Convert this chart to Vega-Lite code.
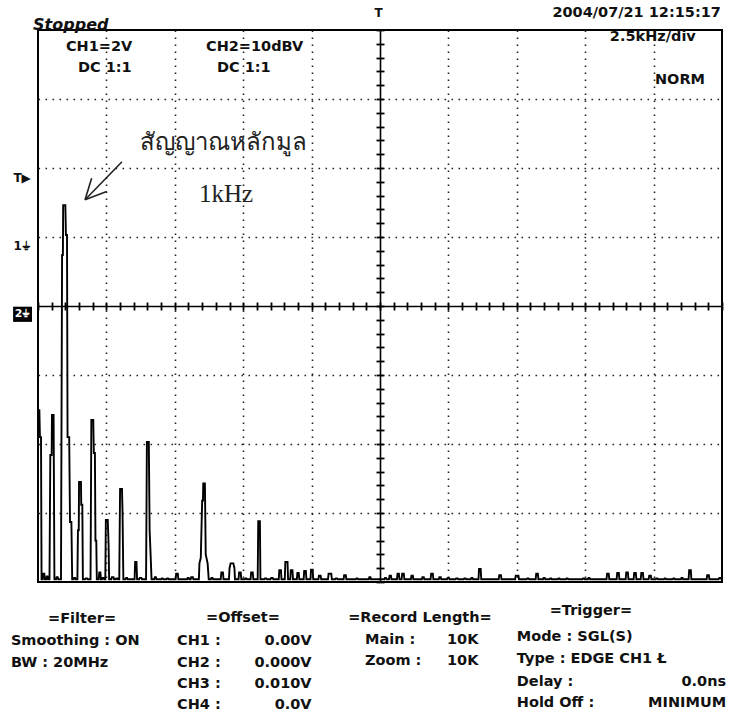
{
"$schema":"https://vega.github.io/schema/vega-lite/v6.json",
"width":684,"height":552,
"autosize":{"type":"none"},
"padding":{"left":38,"top":30,"right":9,"bottom":136},
"background":"white",
"config":{"view":{"stroke":"black","strokeWidth":2}},
"datasets":{
"trace":[
{"f":0,"v":2.49},{"f":0.05,"v":2.49},{"f":0.07,"v":2.1},{"f":0.11,"v":2.1},{"f":0.13,"v":0.04},
{"f":0.17,"v":0.04},{"f":0.19,"v":0.12},{"f":0.23,"v":0.12},{"f":0.25,"v":0.04},
{"f":0.3,"v":0.04},{"f":0.32,"v":0.08},{"f":0.35,"v":0.08},{"f":0.37,"v":0.04},
{"f":0.42,"v":0.04},{"f":0.45,"v":1.84},{"f":0.5,"v":1.84},{"f":0.51,"v":2.42},{"f":0.57,"v":2.42},{"f":0.6,"v":0.04},
{"f":0.66,"v":0.04},{"f":0.68,"v":0.07},{"f":0.72,"v":0.07},{"f":0.74,"v":0.04},
{"f":0.84,"v":0.04},{"f":0.88,"v":4.74},{"f":0.91,"v":4.74},{"f":0.92,"v":5.46},{"f":1.0,"v":5.46},{"f":1.02,"v":5.03},{"f":1.06,"v":5.03},{"f":1.08,"v":2.1},{"f":1.14,"v":2.1},{"f":1.17,"v":0.87},{"f":1.22,"v":0.87},{"f":1.25,"v":0.04},
{"f":1.3,"v":0.04},{"f":1.32,"v":0.06},{"f":1.36,"v":0.06},{"f":1.38,"v":0.04},
{"f":1.44,"v":0.04},{"f":1.46,"v":0.75},{"f":1.49,"v":0.75},{"f":1.5,"v":1.45},{"f":1.57,"v":1.45},{"f":1.58,"v":1.12},{"f":1.62,"v":1.12},{"f":1.64,"v":0.04},
{"f":1.72,"v":0.04},{"f":1.74,"v":0.05},{"f":1.8,"v":0.05},{"f":1.82,"v":0.04},
{"f":1.92,"v":0.04},{"f":1.95,"v":2.35},{"f":2.02,"v":2.35},{"f":2.04,"v":1.87},{"f":2.08,"v":1.87},{"f":2.1,"v":0.6},{"f":2.13,"v":0.6},{"f":2.15,"v":0.04},
{"f":2.22,"v":0.04},{"f":2.24,"v":0.14},{"f":2.28,"v":0.14},{"f":2.3,"v":0.04},
{"f":2.34,"v":0.04},{"f":2.36,"v":0.06},{"f":2.4,"v":0.06},{"f":2.42,"v":0.04},
{"f":2.46,"v":0.04},{"f":2.48,"v":0.9},{"f":2.55,"v":0.9},{"f":2.58,"v":0.55},{"f":2.6,"v":0.04},
{"f":2.68,"v":0.04},{"f":2.7,"v":0.07},{"f":2.76,"v":0.07},{"f":2.78,"v":0.04},
{"f":2.84,"v":0.04},{"f":2.86,"v":0.05},{"f":2.9,"v":0.05},{"f":2.92,"v":0.04},
{"f":2.97,"v":0.04},{"f":3.0,"v":1.35},{"f":3.07,"v":1.35},{"f":3.09,"v":1.0},{"f":3.12,"v":0.04},
{"f":3.2,"v":0.04},{"f":3.22,"v":0.06},{"f":3.26,"v":0.06},{"f":3.28,"v":0.04},
{"f":3.53,"v":0.04},{"f":3.55,"v":0.29},{"f":3.6,"v":0.29},{"f":3.62,"v":0.04},
{"f":3.7,"v":0.04},{"f":3.72,"v":0.06},{"f":3.78,"v":0.06},{"f":3.8,"v":0.04},
{"f":3.95,"v":0.04},{"f":3.98,"v":2.03},{"f":4.05,"v":2.03},{"f":4.08,"v":0.75},{"f":4.12,"v":0.35},{"f":4.15,"v":0.04},
{"f":4.25,"v":0.04},{"f":4.27,"v":0.07},{"f":4.31,"v":0.07},{"f":4.33,"v":0.04},
{"f":4.5,"v":0.04},{"f":4.52,"v":0.05},{"f":4.56,"v":0.05},{"f":4.58,"v":0.04},
{"f":4.7,"v":0.04},{"f":4.72,"v":0.05},{"f":4.76,"v":0.05},{"f":4.78,"v":0.04},
{"f":5.03,"v":0.04},{"f":5.05,"v":0.12},{"f":5.11,"v":0.12},{"f":5.13,"v":0.04},
{"f":5.45,"v":0.04},{"f":5.47,"v":0.06},{"f":5.51,"v":0.06},{"f":5.53,"v":0.04},
{"f":5.58,"v":0.04},{"f":5.6,"v":0.07},{"f":5.66,"v":0.07},{"f":5.68,"v":0.04},
{"f":5.88,"v":0.04},{"f":5.9,"v":0.27},{"f":5.95,"v":0.35},{"f":6.0,"v":1.18},{"f":6.03,"v":1.18},{"f":6.04,"v":1.43},{"f":6.1,"v":1.43},{"f":6.13,"v":0.4},{"f":6.2,"v":0.27},{"f":6.24,"v":0.04},
{"f":6.32,"v":0.04},{"f":6.34,"v":0.06},{"f":6.38,"v":0.06},{"f":6.4,"v":0.04},
{"f":6.68,"v":0.04},{"f":6.7,"v":0.14},{"f":6.76,"v":0.14},{"f":6.78,"v":0.04},
{"f":6.98,"v":0.04},{"f":7.0,"v":0.2},{"f":7.04,"v":0.27},{"f":7.14,"v":0.27},{"f":7.18,"v":0.2},{"f":7.2,"v":0.04},
{"f":7.33,"v":0.04},{"f":7.35,"v":0.14},{"f":7.41,"v":0.14},{"f":7.43,"v":0.04},
{"f":7.56,"v":0.04},{"f":7.58,"v":0.05},{"f":7.62,"v":0.05},{"f":7.64,"v":0.04},
{"f":7.77,"v":0.04},{"f":7.79,"v":0.14},{"f":7.85,"v":0.14},{"f":7.87,"v":0.04},
{"f":8.03,"v":0.04},{"f":8.05,"v":0.88},{"f":8.11,"v":0.88},{"f":8.13,"v":0.04},
{"f":8.27,"v":0.04},{"f":8.29,"v":0.05},{"f":8.35,"v":0.05},{"f":8.37,"v":0.04},
{"f":8.5,"v":0.04},{"f":8.52,"v":0.06},{"f":8.58,"v":0.06},{"f":8.6,"v":0.04},
{"f":8.8,"v":0.04},{"f":8.82,"v":0.17},{"f":8.88,"v":0.17},{"f":8.9,"v":0.04},
{"f":9.02,"v":0.04},{"f":9.04,"v":0.29},{"f":9.12,"v":0.29},{"f":9.14,"v":0.04},
{"f":9.22,"v":0.04},{"f":9.24,"v":0.17},{"f":9.3,"v":0.17},{"f":9.32,"v":0.04},
{"f":9.46,"v":0.04},{"f":9.48,"v":0.13},{"f":9.53,"v":0.13},{"f":9.55,"v":0.04},
{"f":9.71,"v":0.04},{"f":9.73,"v":0.16},{"f":9.79,"v":0.16},{"f":9.81,"v":0.04},
{"f":9.96,"v":0.04},{"f":9.98,"v":0.18},{"f":10.04,"v":0.18},{"f":10.06,"v":0.04},
{"f":10.25,"v":0.04},{"f":10.27,"v":0.09},{"f":10.33,"v":0.09},{"f":10.35,"v":0.04},
{"f":10.6,"v":0.04},{"f":10.62,"v":0.12},{"f":10.72,"v":0.12},{"f":10.74,"v":0.04},
{"f":10.86,"v":0.04},{"f":10.88,"v":0.05},{"f":10.93,"v":0.05},{"f":10.95,"v":0.04},
{"f":11.17,"v":0.04},{"f":11.19,"v":0.1},{"f":11.25,"v":0.1},{"f":11.27,"v":0.04},
{"f":11.62,"v":0.04},{"f":11.64,"v":0.05},{"f":11.68,"v":0.05},{"f":11.7,"v":0.04},
{"f":12.09,"v":0.04},{"f":12.11,"v":0.07},{"f":12.15,"v":0.07},{"f":12.17,"v":0.04},
{"f":12.66,"v":0.04},{"f":12.68,"v":0.06},{"f":12.72,"v":0.06},{"f":12.74,"v":0.04},
{"f":12.83,"v":0.04},{"f":12.85,"v":0.09},{"f":12.9,"v":0.09},{"f":12.92,"v":0.04},
{"f":13.12,"v":0.04},{"f":13.14,"v":0.12},{"f":13.19,"v":0.12},{"f":13.21,"v":0.04},
{"f":13.29,"v":0.04},{"f":13.31,"v":0.12},{"f":13.37,"v":0.12},{"f":13.39,"v":0.04},
{"f":13.63,"v":0.04},{"f":13.65,"v":0.09},{"f":13.7,"v":0.09},{"f":13.72,"v":0.04},
{"f":14.03,"v":0.04},{"f":14.05,"v":0.07},{"f":14.1,"v":0.07},{"f":14.12,"v":0.04},
{"f":14.35,"v":0.04},{"f":14.37,"v":0.12},{"f":14.43,"v":0.12},{"f":14.45,"v":0.04},
{"f":14.65,"v":0.04},{"f":14.67,"v":0.07},{"f":14.72,"v":0.07},{"f":14.74,"v":0.04},
{"f":14.95,"v":0.04},{"f":14.97,"v":0.06},{"f":15.02,"v":0.06},{"f":15.04,"v":0.04},
{"f":15.26,"v":0.04},{"f":15.28,"v":0.05},{"f":15.34,"v":0.05},{"f":15.36,"v":0.04},
{"f":15.56,"v":0.04},{"f":15.58,"v":0.05},{"f":15.63,"v":0.05},{"f":15.65,"v":0.04},
{"f":15.82,"v":0.04},{"f":15.84,"v":0.06},{"f":15.88,"v":0.06},{"f":15.9,"v":0.04},
{"f":16.1,"v":0.04},{"f":16.12,"v":0.19},{"f":16.18,"v":0.19},{"f":16.2,"v":0.04},
{"f":16.84,"v":0.04},{"f":16.86,"v":0.1},{"f":16.92,"v":0.1},{"f":16.94,"v":0.04},
{"f":17.44,"v":0.04},{"f":17.46,"v":0.09},{"f":17.56,"v":0.09},{"f":17.58,"v":0.04},
{"f":17.86,"v":0.04},{"f":17.88,"v":0.05},{"f":17.93,"v":0.05},{"f":17.95,"v":0.04},
{"f":18.19,"v":0.04},{"f":18.21,"v":0.12},{"f":18.27,"v":0.12},{"f":18.29,"v":0.04},
{"f":18.46,"v":0.04},{"f":18.48,"v":0.06},{"f":18.52,"v":0.06},{"f":18.54,"v":0.04},
{"f":18.7,"v":0.04},{"f":18.72,"v":0.05},{"f":18.76,"v":0.05},{"f":18.78,"v":0.04},
{"f":19.0,"v":0.04},{"f":19.02,"v":0.05},{"f":19.06,"v":0.05},{"f":19.08,"v":0.04},
{"f":19.3,"v":0.04},{"f":19.32,"v":0.05},{"f":19.36,"v":0.05},{"f":19.38,"v":0.04},
{"f":19.9,"v":0.04},{"f":19.92,"v":0.05},{"f":19.96,"v":0.05},{"f":19.98,"v":0.04},
{"f":20.1,"v":0.04},{"f":20.12,"v":0.06},{"f":20.16,"v":0.06},{"f":20.18,"v":0.04},
{"f":20.78,"v":0.04},{"f":20.8,"v":0.12},{"f":20.86,"v":0.12},{"f":20.88,"v":0.04},
{"f":21.15,"v":0.04},{"f":21.17,"v":0.13},{"f":21.23,"v":0.13},{"f":21.25,"v":0.04},
{"f":21.48,"v":0.04},{"f":21.5,"v":0.14},{"f":21.56,"v":0.14},{"f":21.58,"v":0.04},
{"f":21.77,"v":0.04},{"f":21.79,"v":0.13},{"f":21.85,"v":0.13},{"f":21.87,"v":0.04},
{"f":22.03,"v":0.04},{"f":22.05,"v":0.13},{"f":22.11,"v":0.13},{"f":22.13,"v":0.04},
{"f":22.32,"v":0.04},{"f":22.34,"v":0.09},{"f":22.4,"v":0.09},{"f":22.42,"v":0.04},
{"f":22.58,"v":0.04},{"f":22.6,"v":0.05},{"f":22.64,"v":0.05},{"f":22.66,"v":0.04},
{"f":22.88,"v":0.04},{"f":22.9,"v":0.05},{"f":22.94,"v":0.05},{"f":22.96,"v":0.04},
{"f":23.2,"v":0.04},{"f":23.22,"v":0.05},{"f":23.26,"v":0.05},{"f":23.28,"v":0.04},
{"f":23.5,"v":0.04},{"f":23.52,"v":0.06},{"f":23.56,"v":0.06},{"f":23.58,"v":0.04},
{"f":23.78,"v":0.04},{"f":23.8,"v":0.17},{"f":23.86,"v":0.17},{"f":23.88,"v":0.04},
{"f":24.44,"v":0.04},{"f":24.46,"v":0.1},{"f":24.52,"v":0.1},{"f":24.54,"v":0.04},
{"f":24.88,"v":0.04},{"f":24.9,"v":0.06},{"f":24.96,"v":0.06},{"f":24.98,"v":0.04},{"f":25,"v":0.04}
],
"labels":[
{"t":"CH1=2V","f":1.02,"v":7.75,"g":"L"},
{"t":"DC  1:1","f":1.46,"v":7.45,"g":"L"},
{"t":"CH2=10dBV","f":6.14,"v":7.75,"g":"L"},
{"t":"DC  1:1","f":6.54,"v":7.45,"g":"L"},
{"t":"2.5kHz/div","f":20.9,"v":7.9,"g":"L"},
{"t":"NORM","f":22.55,"v":7.27,"g":"L"},
{"t":"Smoothing : ON","f":-0.99,"v":-0.855,"g":"L"},
{"t":"BW : 20MHz","f":-0.99,"v":-1.174,"g":"L"},
{"t":"CH1 :","f":5.08,"v":-0.855,"g":"L"},
{"t":"CH2 :","f":5.08,"v":-1.174,"g":"L"},
{"t":"CH3 :","f":5.08,"v":-1.478,"g":"L"},
{"t":"CH4 :","f":5.08,"v":-1.783,"g":"L"},
{"t":"Main :","f":11.95,"v":-0.841,"g":"L"},
{"t":"Zoom :","f":11.95,"v":-1.145,"g":"L"},
{"t":"10K","f":14.95,"v":-0.841,"g":"L"},
{"t":"10K","f":14.95,"v":-1.145,"g":"L"},
{"t":"Mode : SGL(S)","f":17.5,"v":-0.797,"g":"L"},
{"t":"Type : EDGE CH1 Ł","f":17.5,"v":-1.116,"g":"L"},
{"t":"Delay :","f":17.5,"v":-1.449,"g":"L"},
{"t":"Hold Off :","f":17.5,"v":-1.754,"g":"L"},
{"t":"0.00V","f":10.0,"v":-0.855,"g":"R"},
{"t":"0.000V","f":10.0,"v":-1.174,"g":"R"},
{"t":"0.010V","f":10.0,"v":-1.478,"g":"R"},
{"t":"0.0V","f":10.0,"v":-1.783,"g":"R"},
{"t":"0.0ns","f":25.15,"v":-1.449,"g":"R"},
{"t":"MINIMUM","f":25.15,"v":-1.754,"g":"R"},
{"t":"2004/07/21  12:15:17","f":24.96,"v":8.25,"g":"R"},
{"t":"=Filter=","f":1.61,"v":-0.536,"g":"C"},
{"t":"=Offset=","f":7.49,"v":-0.522,"g":"C"},
{"t":"=Record Length=","f":13.96,"v":-0.522,"g":"C"},
{"t":"=Trigger=","f":20.21,"v":-0.42,"g":"C"},
{"t":"Stopped","f":-0.18,"v":8.07,"g":"S"},
{"t":"สัญญาณหลักมูล","f":3.73,"v":6.36,"g":"TH"},
{"t":"1kHz","f":5.88,"v":5.62,"g":"K"},
{"t":"T","f":12.45,"v":8.24,"g":"M"},
{"t":"T▶","f":-0.58,"v":5.85,"g":"M"},
{"t":"1⏚","f":-0.58,"v":4.87,"g":"M"}
],
"arrow":[
{"x1":3.07,"y1":6.09,"x2":1.72,"y2":5.54},
{"x1":1.72,"y1":5.54,"x2":1.96,"y2":5.85},
{"x1":1.72,"y1":5.54,"x2":2.51,"y2":5.66}
],
"box":[{"x1":-0.91,"x2":-0.22,"y1":3.77,"y2":3.99,"t":"2⏚"}]
},
"layer":[
{"data":{"name":"trace"},
 "mark":{"type":"line","color":"black","strokeWidth":1.9,"clip":true},
 "encoding":{
  "x":{"field":"f","type":"quantitative","scale":{"domain":[0,25],"nice":false,"zero":false},
       "axis":{"values":[2.5,5,7.5,10,15,17.5,20,22.5],"grid":true,"gridDash":[1.6,5.4],"gridColor":"#222","gridWidth":1.6,"domain":false,"ticks":false,"labels":false,"title":null}},
  "y":{"field":"v","type":"quantitative","scale":{"domain":[0,8],"nice":false,"zero":false},
       "axis":{"values":[1,2,3,5,6,7],"grid":true,"gridDash":[1.6,5.4],"gridColor":"#222","gridWidth":1.6,"domain":false,"ticks":false,"labels":false,"title":null}}
 }},
{"data":{"name":"trace"},
 "mark":{"type":"point","opacity":0},
 "encoding":{
  "x":{"field":"f","type":"quantitative","scale":{"domain":[0,25],"nice":false,"zero":false},
       "axis":{"orient":"top","offset":-276,"tickCount":50,"ticks":true,"tickSize":4,"tickWidth":1.8,"tickColor":"black","domain":true,"domainColor":"black","domainWidth":1.6,"labels":false,"grid":false,"title":null}},
  "y":{"field":"v","type":"quantitative","scale":{"domain":[0,8],"nice":false,"zero":false},
       "axis":{"orient":"left","offset":-342,"tickCount":40,"ticks":true,"tickSize":4,"tickWidth":1.8,"tickColor":"black","domain":true,"domainColor":"black","domainWidth":1.6,"labels":false,"grid":false,"title":null}}
 }},
{"data":{"name":"trace"},
 "mark":{"type":"point","opacity":0},
 "encoding":{
  "x":{"field":"f","type":"quantitative","scale":{"domain":[0,25],"nice":false,"zero":false},
       "axis":{"orient":"bottom","offset":-276,"tickCount":50,"ticks":true,"tickSize":4,"tickWidth":1.8,"tickColor":"black","domain":false,"labels":false,"grid":false,"title":null}},
  "y":{"field":"v","type":"quantitative","scale":{"domain":[0,8],"nice":false,"zero":false},
       "axis":{"orient":"right","offset":-342,"tickCount":40,"ticks":true,"tickSize":4,"tickWidth":1.8,"tickColor":"black","domain":false,"labels":false,"grid":false,"title":null}}
 }},
{"data":{"name":"arrow"},
 "mark":{"type":"rule","color":"#222","strokeWidth":1.6},
 "encoding":{
  "x":{"field":"x1","type":"quantitative","scale":{"domain":[0,25],"nice":false,"zero":false},"axis":null},
  "y":{"field":"y1","type":"quantitative","scale":{"domain":[0,8],"nice":false,"zero":false},"axis":null},
  "x2":{"field":"x2"},"y2":{"field":"y2"}
 }},
{"data":{"name":"box"},
 "mark":{"type":"rect","color":"black"},
 "encoding":{
  "x":{"field":"x1","type":"quantitative","scale":{"domain":[0,25],"nice":false,"zero":false},"axis":null},
  "x2":{"field":"x2"},
  "y":{"field":"y1","type":"quantitative","scale":{"domain":[0,8],"nice":false,"zero":false},"axis":null},
  "y2":{"field":"y2"}
 }},
{"data":{"name":"box"},
 "transform":[{"calculate":"(datum.x1+datum.x2)/2","as":"xc"},{"calculate":"(datum.y1+datum.y2)/2","as":"yc"}],
 "mark":{"type":"text","color":"white","font":"DejaVu Sans","fontWeight":"bold","fontSize":11,"align":"center","baseline":"middle"},
 "encoding":{
  "x":{"field":"xc","type":"quantitative","scale":{"domain":[0,25],"nice":false,"zero":false},"axis":null},
  "y":{"field":"yc","type":"quantitative","scale":{"domain":[0,8],"nice":false,"zero":false},"axis":null},
  "text":{"field":"t"}
 }},
{"data":{"name":"labels"},"transform":[{"filter":"datum.g=='L'"}],
 "mark":{"type":"text","align":"left","baseline":"middle","font":"DejaVu Sans","fontWeight":"bold","fontSize":14.5,"color":"#111"},
 "encoding":{"x":{"field":"f","type":"quantitative","scale":{"domain":[0,25],"nice":false,"zero":false},"axis":null},
  "y":{"field":"v","type":"quantitative","scale":{"domain":[0,8],"nice":false,"zero":false},"axis":null},"text":{"field":"t"}}},
{"data":{"name":"labels"},"transform":[{"filter":"datum.g=='R'"}],
 "mark":{"type":"text","align":"right","baseline":"middle","font":"DejaVu Sans","fontWeight":"bold","fontSize":14.5,"color":"#111"},
 "encoding":{"x":{"field":"f","type":"quantitative","scale":{"domain":[0,25],"nice":false,"zero":false},"axis":null},
  "y":{"field":"v","type":"quantitative","scale":{"domain":[0,8],"nice":false,"zero":false},"axis":null},"text":{"field":"t"}}},
{"data":{"name":"labels"},"transform":[{"filter":"datum.g=='C'"}],
 "mark":{"type":"text","align":"center","baseline":"middle","font":"DejaVu Sans","fontWeight":"bold","fontSize":14.5,"color":"#111"},
 "encoding":{"x":{"field":"f","type":"quantitative","scale":{"domain":[0,25],"nice":false,"zero":false},"axis":null},
  "y":{"field":"v","type":"quantitative","scale":{"domain":[0,8],"nice":false,"zero":false},"axis":null},"text":{"field":"t"}}},
{"data":{"name":"labels"},"transform":[{"filter":"datum.g=='S'"}],
 "mark":{"type":"text","align":"left","baseline":"middle","font":"DejaVu Sans","fontWeight":"bold","fontStyle":"italic","fontSize":16,"color":"#111"},
 "encoding":{"x":{"field":"f","type":"quantitative","scale":{"domain":[0,25],"nice":false,"zero":false},"axis":null},
  "y":{"field":"v","type":"quantitative","scale":{"domain":[0,8],"nice":false,"zero":false},"axis":null},"text":{"field":"t"}}},
{"data":{"name":"labels"},"transform":[{"filter":"datum.g=='TH'"}],
 "mark":{"type":"text","align":"left","baseline":"middle","font":"Liberation Serif","fontSize":24,"color":"#222"},
 "encoding":{"x":{"field":"f","type":"quantitative","scale":{"domain":[0,25],"nice":false,"zero":false},"axis":null},
  "y":{"field":"v","type":"quantitative","scale":{"domain":[0,8],"nice":false,"zero":false},"axis":null},"text":{"field":"t"}}},
{"data":{"name":"labels"},"transform":[{"filter":"datum.g=='K'"}],
 "mark":{"type":"text","align":"left","baseline":"middle","font":"Liberation Serif","fontSize":25,"color":"#222"},
 "encoding":{"x":{"field":"f","type":"quantitative","scale":{"domain":[0,25],"nice":false,"zero":false},"axis":null},
  "y":{"field":"v","type":"quantitative","scale":{"domain":[0,8],"nice":false,"zero":false},"axis":null},"text":{"field":"t"}}},
{"data":{"name":"labels"},"transform":[{"filter":"datum.g=='M'"}],
 "mark":{"type":"text","align":"center","baseline":"middle","font":"DejaVu Sans","fontWeight":"bold","fontSize":12,"color":"#111"},
 "encoding":{"x":{"field":"f","type":"quantitative","scale":{"domain":[0,25],"nice":false,"zero":false},"axis":null},
  "y":{"field":"v","type":"quantitative","scale":{"domain":[0,8],"nice":false,"zero":false},"axis":null},"text":{"field":"t"}}}
],
"resolve":{"axis":{"x":"independent","y":"independent"}}
}
